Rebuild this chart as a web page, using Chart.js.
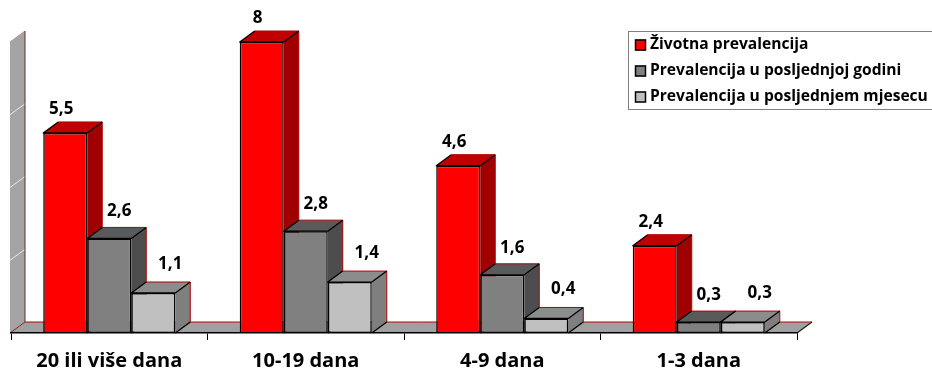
<!DOCTYPE html>
<html>
<head>
<meta charset="utf-8">
<script src="https://cdn.jsdelivr.net/npm/chart.js@4.4.0/dist/chart.umd.min.js"></script>
<style>
  html, body { margin: 0; padding: 0; background: #ffffff; }
  #wrap { width: 932px; height: 372px; }
</style>
</head>
<body>
<div id="wrap"><canvas id="chart" width="932" height="372"></canvas></div>
<script>
// Prevalence by number of days
const categories = ['20 ili više dana', '10-19 dana', '4-9 dana', '1-3 dana'];
const lifetime   = [5.5, 8, 4.6, 2.4];
const lastYear   = [2.6, 2.8, 1.6, 0.3];
const lastMonth  = [1.1, 1.4, 0.4, 0.3];
const seriesNames = [
  'Životna prevalencija',
  'Prevalencija u posljednjoj godini',
  'Prevalencija u posljednjem mjesecu'
];
const yTicks = [0, 2, 4, 6, 8];

// depth of the pseudo-3D extrusion (pixels)
const DEPTH_X = 15;
const DEPTH_Y = -11;
const FONT = "'Open Sans', 'Liberation Sans', sans-serif";

function poly(ctx, pts) {
  ctx.beginPath();
  ctx.moveTo(pts[0][0], pts[0][1]);
  for (let i = 1; i < pts.length; i++) ctx.lineTo(pts[i][0], pts[i][1]);
  ctx.closePath();
}
function line(ctx, pts, color, width) {
  ctx.beginPath();
  ctx.moveTo(pts[0][0], pts[0][1]);
  for (let i = 1; i < pts.length; i++) ctx.lineTo(pts[i][0], pts[i][1]);
  ctx.strokeStyle = color;
  ctx.lineWidth = width;
  ctx.stroke();
}

const threeD = {
  id: 'threeD',
  // side wall and floor
  beforeDraw(chart) {
    const ctx = chart.ctx;
    const y = chart.scales.y;
    const L = chart.chartArea.left - 1, R = chart.chartArea.right;
    const B = y.getPixelForValue(yTicks[0]);
    const T = y.getPixelForValue(yTicks[yTicks.length - 1]);
    ctx.save();
    // wall
    poly(ctx, [[L, B], [L, T], [L + DEPTH_X, T + DEPTH_Y], [L + DEPTH_X, B + DEPTH_Y]]);
    ctx.fillStyle = '#a4a4a4';
    ctx.fill();
    // gridline traces on the wall
    for (let i = 1; i < yTicks.length - 1; i++) {
      const p = y.getPixelForValue(yTicks[i]);
      line(ctx, [[L, p], [L + DEPTH_X, p + DEPTH_Y]], '#f4e4e4', 1);
    }
    line(ctx, [[L, T], [L + DEPTH_X, T + DEPTH_Y]], '#c89090', 1);
    line(ctx, [[L + DEPTH_X, T + DEPTH_Y], [L + DEPTH_X, B + DEPTH_Y]], '#5a3030', 1);
    // floor
    poly(ctx, [[L, B], [R, B], [R + DEPTH_X, B + DEPTH_Y], [L + DEPTH_X, B + DEPTH_Y]]);
    ctx.fillStyle = '#a0a0a0';
    ctx.fill();
    line(ctx, [[L + DEPTH_X, B + DEPTH_Y], [R + DEPTH_X, B + DEPTH_Y]], '#c00000', 1);
    line(ctx, [[L, B], [L + DEPTH_X, B + DEPTH_Y]], '#8a2020', 1);
    line(ctx, [[R, B], [R + DEPTH_X, B + DEPTH_Y]], '#202020', 1.2);
    ctx.restore();
  },
  // tops and sides of the columns, painted left to right
  beforeDatasetsDraw(chart) {
    const ctx = chart.ctx;
    const n = chart.data.labels.length;
    ctx.save();
    ctx.lineJoin = 'round';
    for (let i = 0; i < n; i++) {
      chart.data.datasets.forEach((ds, d) => {
        const el = chart.getDatasetMeta(d).data[i];
        const p = el.getProps(['x', 'y', 'base', 'width'], true);
        const x0 = p.x - p.width / 2, x1 = p.x + p.width / 2;
        const top = p.y, base = p.base;
        // top face
        poly(ctx, [[x0, top], [x1, top], [x1 + DEPTH_X, top + DEPTH_Y], [x0 + DEPTH_X, top + DEPTH_Y]]);
        ctx.fillStyle = ds.topColor;
        ctx.fill();
        // side face
        poly(ctx, [[x1, top], [x1 + DEPTH_X, top + DEPTH_Y], [x1 + DEPTH_X, base + DEPTH_Y], [x1, base]]);
        ctx.fillStyle = ds.sideColor;
        ctx.fill();
        // edges
        line(ctx, [[x0 + DEPTH_X, top + DEPTH_Y], [x1 + DEPTH_X, top + DEPTH_Y], [x1 + DEPTH_X, base + DEPTH_Y]], '#b00000', 1);
        line(ctx, [[x0 + DEPTH_X, top + DEPTH_Y], [x0, top], [x1, top], [x1 + DEPTH_X, top + DEPTH_Y]], '#000000', 1.3);
        line(ctx, [[x1, base], [x1 + DEPTH_X, base + DEPTH_Y]], '#000000', 1.3);
      });
    }
    ctx.restore();
  },
  // value labels
  afterDatasetsDraw(chart) {
    const ctx = chart.ctx;
    ctx.save();
    ctx.font = 'bold 17px ' + FONT;
    ctx.fillStyle = '#000000';
    ctx.textAlign = 'center';
    ctx.textBaseline = 'middle';
    chart.data.datasets.forEach((ds, d) => {
      chart.getDatasetMeta(d).data.forEach((el, i) => {
        const txt = String(ds.data[i]).replace('.', ',');
        ctx.fillText(txt, el.x + ds.labelShift.x, el.y + ds.labelShift.y);
      });
    });
    ctx.restore();
  },
  // legend box
  afterDraw(chart) {
    const ctx = chart.ctx;
    const bx = 628.5, by = 31.5, bw = 320, bh = 78;
    ctx.save();
    ctx.fillStyle = '#ffffff';
    ctx.fillRect(bx, by, bw, bh);
    ctx.strokeStyle = '#808080';
    ctx.lineWidth = 1;
    ctx.strokeRect(bx, by, bw, bh);
    ctx.font = 'bold 15.6px ' + FONT;
    ctx.textBaseline = 'middle';
    ctx.textAlign = 'left';
    const rows = [45, 71, 97];
    chart.data.datasets.forEach((ds, d) => {
      const cy = rows[d];
      ctx.fillStyle = ds.backgroundColor;
      ctx.fillRect(635, cy - 5.5, 11, 11);
      ctx.strokeStyle = '#000000';
      ctx.lineWidth = 1.5;
      ctx.strokeRect(635.5, cy - 5, 10, 10);
      ctx.fillStyle = '#000000';
      ctx.fillText(ds.label, 650, cy);
    });
    ctx.restore();
  }
};

new Chart(document.getElementById('chart'), {
  type: 'bar',
  data: {
    labels: categories,
    datasets: [
      { label: seriesNames[0], data: lifetime,  backgroundColor: '#ff0000', topColor: '#c00000', sideColor: '#a00000', labelShift: { x: -4, y: -24 } },
      { label: seriesNames[1], data: lastYear,  backgroundColor: '#808080', topColor: '#5a5a5a', sideColor: '#4d4d4d', labelShift: { x: 10, y: -27 } },
      { label: seriesNames[2], data: lastMonth, backgroundColor: '#c0c0c0', topColor: '#8c8c8c', sideColor: '#7f7f7f', labelShift: { x: 17, y: -29 } }
    ]
  },
  options: {
    responsive: false,
    animation: false,
    events: [],
    layout: { padding: { left: 11, right: 135, top: 42, bottom: 0 } },
    datasets: {
      bar: {
        categoryPercentage: 0.672,
        barPercentage: 1,
        borderColor: '#000000',
        borderWidth: 1.5,
        borderSkipped: false
      }
    },
    plugins: { legend: { display: false }, tooltip: { enabled: false } },
    scales: {
      x: {
        grid: { offset: true, drawOnChartArea: false, drawTicks: true, tickLength: 7, color: '#000000', lineWidth: 1 },
        border: { color: '#000000', width: 1.5 },
        ticks: { color: '#000000', font: { family: FONT, weight: 'bold', size: 20 }, padding: 9, maxRotation: 0 },
        afterFit(scale) { scale.height = 39; }
      },
      y: {
        display: false,
        min: yTicks[0],
        max: yTicks[yTicks.length - 1],
        ticks: { stepSize: 2 }
      }
    }
  },
  plugins: [threeD]
});
</script>
</body>
</html>
